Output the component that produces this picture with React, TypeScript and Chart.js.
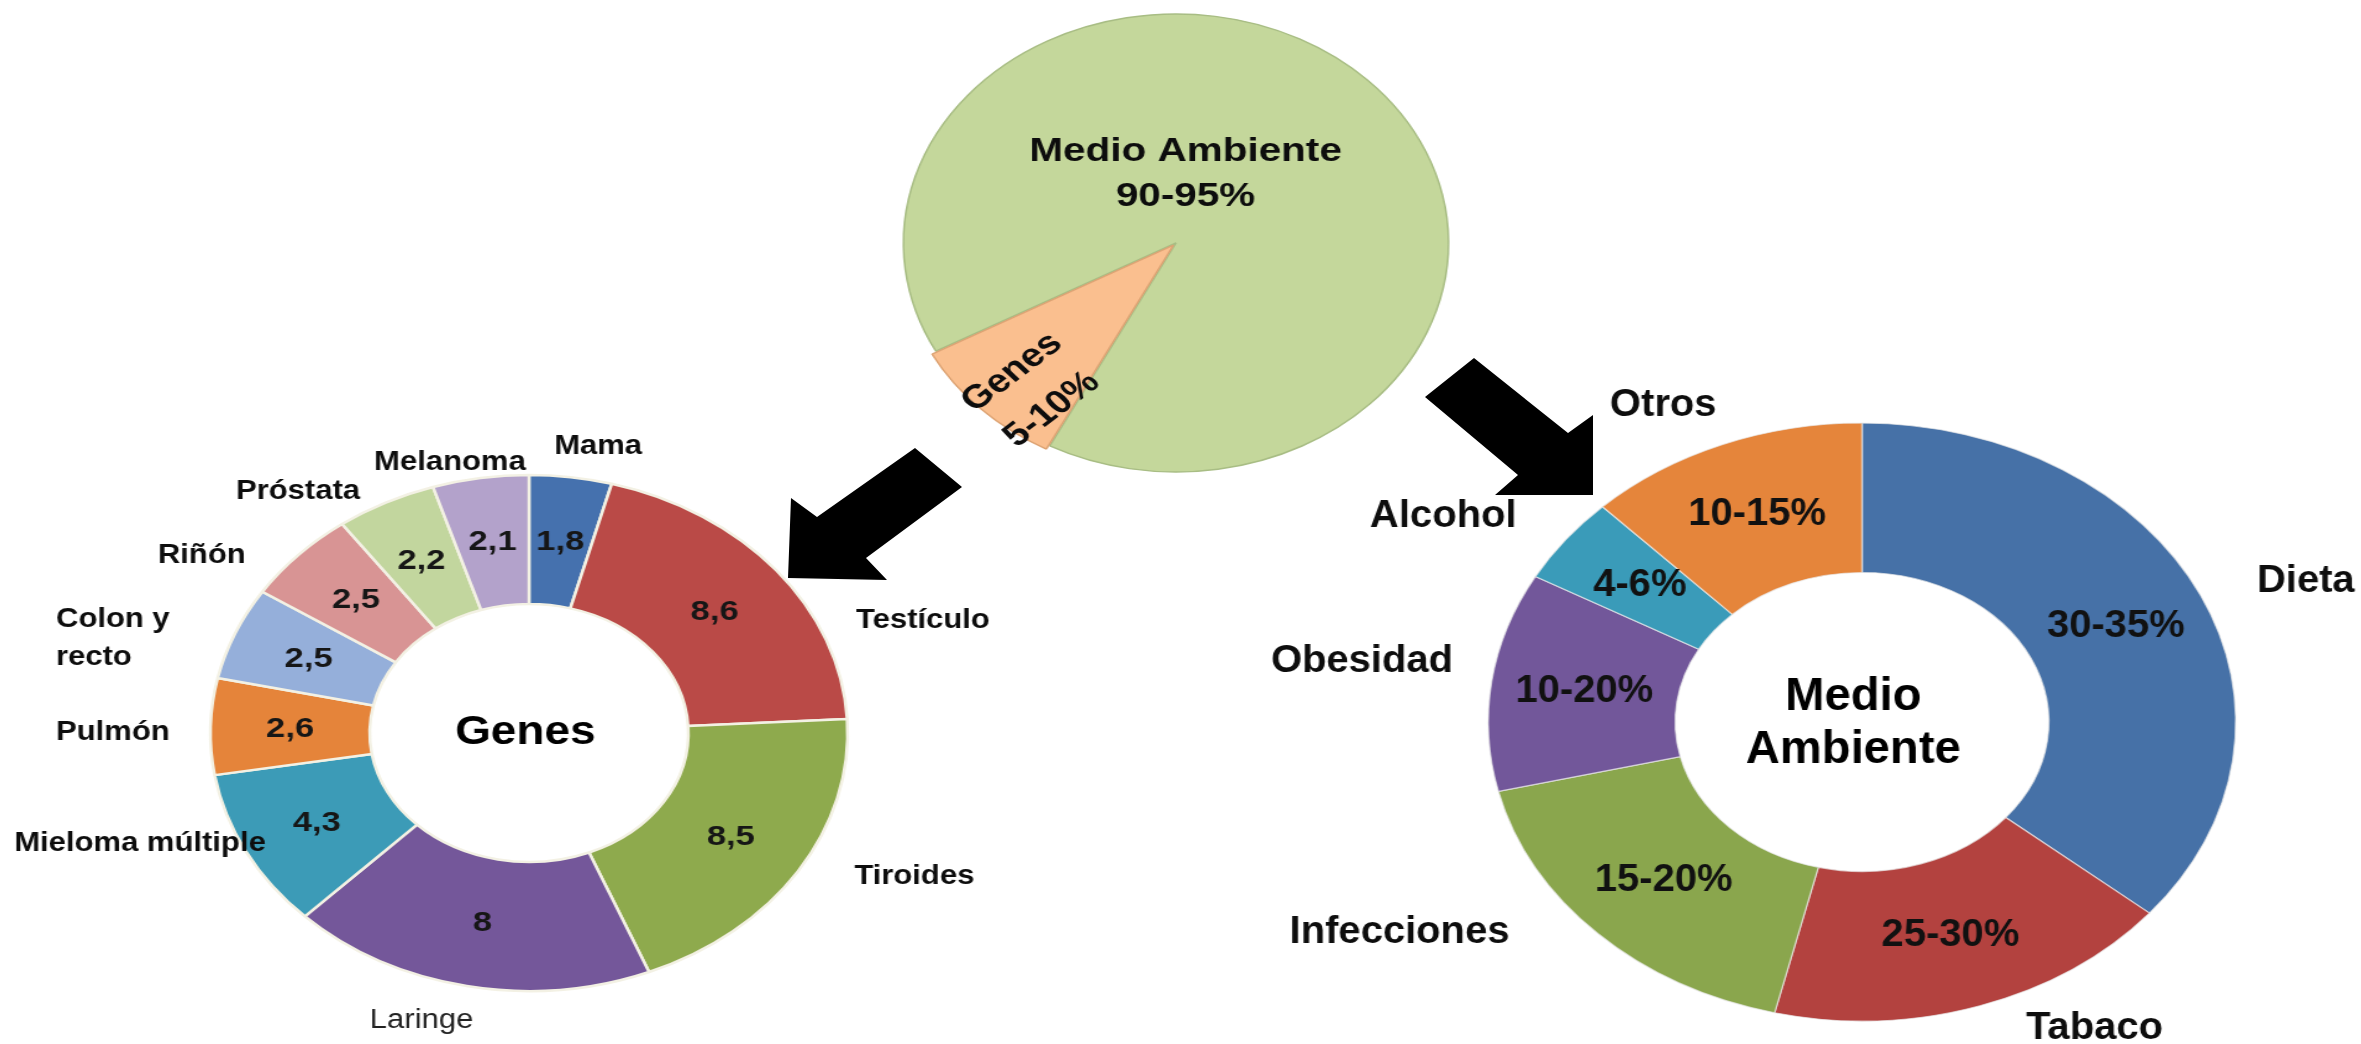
import React, { useEffect, useRef } from 'react';
import { Chart, registerables } from 'chart.js';

Chart.register(...registerables);

const FONT = "'Liberation Sans', Arial, Helvetica, sans-serif";

// ---------------- Data ----------------
const totalLabels = ['Medio Ambiente', 'Genes'];
const totalValues = [90.5, 9.5];
const totalRanges = ['90-95%', '5-10%'];

const genesTitle = 'Genes';
const genesLabels = ['Mama', 'Testículo', 'Tiroides', 'Laringe', 'Mieloma múltiple', 'Pulmón', 'Colon y recto', 'Riñón', 'Próstata', 'Melanoma'];
const genesValues = [1.8, 8.6, 8.5, 8, 4.3, 2.6, 2.5, 2.5, 2.2, 2.1];

const ambienteTitle = ['Medio', 'Ambiente'];
const ambienteLabels = ['Dieta', 'Tabaco', 'Infecciones', 'Obesidad', 'Alcohol', 'Otros'];
const ambienteValues = [36, 17.7, 17.5, 11.8, 4.7, 12.2];
const ambienteRanges = ['30-35%', '25-30%', '15-20%', '10-20%', '4-6%', '10-15%'];

// ---------------- Styles / layout ----------------
const totalColors = ['#C4D79B', '#FABF8F'];
const totalBorders = ['#A8BD84', '#DDA373'];
const genesColors = ['#4571AE', '#BA4A47', '#8EAA4D', '#74579A', '#3C9BB7', '#E5843A', '#95AFDA', '#D89494', '#C2D69E', '#B3A2CB'];
const ambienteColors = ['#4671A7', '#B3423F', '#8AA64D', '#72579A', '#3A9BB9', '#E5853B'];

const PIE = { cx: 1176, cy: 243, w: 560, h: 520, sx: 1.19, radius: 229, rotation: 241.8, offset: 12 };
const GENES = { cx: 528.5, cy: 733, w: 880, h: 666, sx: 1.235, radius: 258 };
const AMB = { cx: 1862, cy: 722, w: 1000, h: 704, sx: 1.25, radius: 299 };

type LabelPos = { dx: number; dy: number; align?: CanvasTextAlign; bold?: boolean; wrapAt?: number };

// offsets from ring centre, in unstretched chart pixels
const genesLabelLayout: LabelPos[] = [
  { dx: 56, dy: -286 },
  { dx: 319, dy: -112 },
  { dx: 312, dy: 144 },
  { dx: -87, dy: 288, bold: false },
  { dx: -315, dy: 111 },
  { dx: -383, dy: 0, align: 'left' },
  { dx: -383, dy: -94, align: 'left', wrapAt: 2 },
  { dx: -265, dy: -177 },
  { dx: -187, dy: -241 },
  { dx: -64, dy: -270 },
];
const ambienteLabelLayout: LabelPos[] = [
  { dx: 355, dy: -141 },
  { dx: 186, dy: 306 },
  { dx: -370, dy: 210 },
  { dx: -400, dy: -61 },
  { dx: -335, dy: -206 },
  { dx: -159, dy: -317 },
];

const arrowLeft = [[788, 578], [791, 498], [817, 517], [915, 448], [962, 487], [866, 558], [887, 580]];
const arrowRight = [[1425, 397], [1474, 358], [1568, 433], [1593, 415], [1593, 495], [1495, 495], [1518, 475]];

const fmt = (v: number) => String(v).replace('.', ',');

function drawText(ctx: CanvasRenderingContext2D, text: string, x: number, y: number, size: number, opts: any = {}) {
  const { bold = true, color = '#0d0d0d', scaleX = 1, align = 'center', rotate = 0 } = opts;
  ctx.save();
  ctx.translate(x, y);
  if (rotate) ctx.rotate(rotate);
  ctx.scale(scaleX, 1);
  ctx.font = `${bold ? 'bold ' : ''}${size}px ${FONT}`;
  ctx.fillStyle = color;
  ctx.textAlign = align;
  ctx.textBaseline = 'middle';
  ctx.fillText(text, 0, 0);
  ctx.restore();
}

function drawLabel(ctx: CanvasRenderingContext2D, label: string, cx: number, cy: number, L: LabelPos, size: number, scaleX: number, lineGap: number) {
  const opts = { bold: L.bold !== false, scaleX, align: L.align || 'center', color: L.bold === false ? '#222' : '#0d0d0d' };
  if (L.wrapAt) {
    const words = label.split(' ');
    const lines = [words.slice(0, L.wrapAt).join(' '), words.slice(L.wrapAt).join(' ')];
    lines.forEach((ln, k) => drawText(ctx, ln, cx + L.dx, cy + L.dy + (k - (lines.length - 1) / 2) * lineGap, size, opts));
  } else {
    drawText(ctx, label, cx + L.dx, cy + L.dy, size, opts);
  }
}

const piePlugin = {
  id: 'pieText',
  afterDatasetsDraw(chart: any) {
    const ctx = chart.ctx;
    const arcs = chart.getDatasetMeta(0).data;
    const cx = arcs[0].x;
    const cy = arcs[0].y;
    drawText(ctx, totalLabels[0], cx + 8, cy - 91, 34);
    drawText(ctx, totalRanges[0], cx + 8, cy - 46, 34);
    const rot = (-42 * Math.PI) / 180;
    const bx = cx - 121;
    const by = cy + 148;
    const gap = 25;
    // lines offset perpendicular to the rotated baseline
    const nx = -Math.sin(rot);
    const ny = Math.cos(rot);
    drawText(ctx, totalLabels[1], bx - nx * gap, by - ny * gap, 33, { rotate: rot });
    drawText(ctx, totalRanges[1], bx + nx * gap, by + ny * gap, 33, { rotate: rot });
  },
};

const genesPlugin = {
  id: 'genesText',
  afterDatasetsDraw(chart: any) {
    const ctx = chart.ctx;
    const arcs = chart.getDatasetMeta(0).data;
    const cx = arcs[0].x;
    const cy = arcs[0].y;
    arcs.forEach((arc: any, i: number) => {
      const p = arc.tooltipPosition(false);
      drawText(ctx, fmt(genesValues[i]), p.x, p.y + 1, 28, { color: '#161616' });
      drawLabel(ctx, genesLabels[i], cx, cy, genesLabelLayout[i], 27, 0.93, 38);
    });
    drawText(ctx, genesTitle, cx - 3, cy, 40, { scaleX: 0.93, color: '#000' });
  },
};

const ambientePlugin = {
  id: 'ambienteText',
  afterDatasetsDraw(chart: any) {
    const ctx = chart.ctx;
    const arcs = chart.getDatasetMeta(0).data;
    const cx = arcs[0].x;
    const cy = arcs[0].y;
    arcs.forEach((arc: any, i: number) => {
      const p = arc.tooltipPosition(false);
      drawText(ctx, ambienteRanges[i], p.x, p.y, 39, { scaleX: 0.82, color: '#111' });
      drawLabel(ctx, ambienteLabels[i], cx, cy, ambienteLabelLayout[i], 39, 0.82, 40);
    });
    drawText(ctx, ambienteTitle[0], cx - 7, cy - 25, 46, { scaleX: 0.82, color: '#000' });
    drawText(ctx, ambienteTitle[1], cx - 7, cy + 28, 46, { scaleX: 0.82, color: '#000' });
  },
};

const baseOptions = {
  responsive: false,
  maintainAspectRatio: false,
  animation: false,
  events: [],
  layout: { padding: 0 },
  plugins: { legend: { display: false }, tooltip: { enabled: false } },
};

function buildPie(): any {
  return {
    type: 'pie',
    data: {
      labels: totalLabels,
      datasets: [{
        data: totalValues,
        backgroundColor: totalColors,
        borderColor: totalBorders,
        borderWidth: 1.5,
        offset: [0, PIE.offset],
      }],
    },
    options: { ...baseOptions, radius: PIE.radius, rotation: PIE.rotation },
    plugins: [piePlugin],
  };
}

function buildGenes(): any {
  return {
    type: 'doughnut',
    data: {
      labels: genesLabels,
      datasets: [{ data: genesValues, backgroundColor: genesColors, borderColor: '#F3F1E4', borderWidth: 2.5 }],
    },
    options: { ...baseOptions, radius: GENES.radius, cutout: '50%' },
    plugins: [genesPlugin],
  };
}

function buildAmbiente(): any {
  return {
    type: 'doughnut',
    data: {
      labels: ambienteLabels,
      datasets: [{ data: ambienteValues, backgroundColor: ambienteColors, borderColor: 'rgba(235,235,235,0.7)', borderWidth: 1.2 }],
    },
    options: { ...baseOptions, radius: AMB.radius, cutout: '50%' },
    plugins: [ambientePlugin],
  };
}

function ChartBox({ box, build }: { box: { cx: number; cy: number; w: number; h: number; sx: number }; build: () => any }) {
  const ref = useRef<HTMLCanvasElement>(null);
  useEffect(() => {
    const chart = new Chart(ref.current as HTMLCanvasElement, build());
    return () => chart.destroy();
  }, []);
  return (
    <div
      style={{
        position: 'absolute',
        left: box.cx - box.w / 2,
        top: box.cy - box.h / 2,
        width: box.w,
        height: box.h,
        transform: `scaleX(${box.sx})`,
        transformOrigin: '50% 50%',
      }}
    >
      <canvas ref={ref} width={box.w} height={box.h} style={{ width: box.w, height: box.h, display: 'block' }} />
    </div>
  );
}

export default function App() {
  const pts = (a: number[][]) => a.map((p) => p.join(',')).join(' ');
  return (
    <div style={{ position: 'absolute', left: 0, top: 0, width: 2361, height: 1044, overflow: 'hidden', background: '#fff' }}>
      <ChartBox box={PIE} build={buildPie} />
      <ChartBox box={GENES} build={buildGenes} />
      <ChartBox box={AMB} build={buildAmbiente} />
      <svg width={2361} height={1044} style={{ position: 'absolute', left: 0, top: 0, pointerEvents: 'none' }}>
        <polygon points={pts(arrowLeft)} fill="#000" />
        <polygon points={pts(arrowRight)} fill="#000" />
      </svg>
    </div>
  );
}
